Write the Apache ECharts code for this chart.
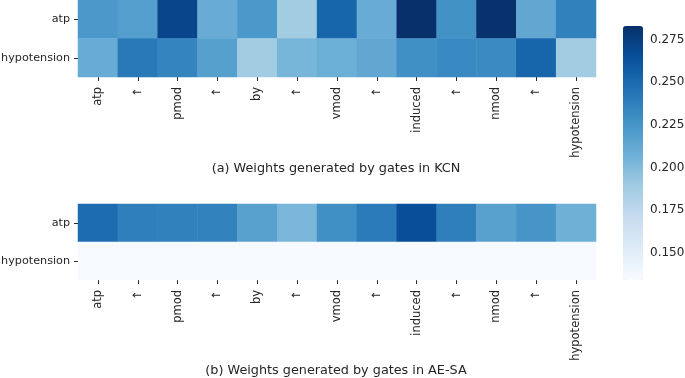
<!DOCTYPE html>
<html>
<head>
<meta charset="utf-8">
<script src="https://cdn.jsdelivr.net/npm/echarts@6/dist/echarts.min.js"></script>
<style>
  html, body { margin: 0; padding: 0; background: #fff; }
  #main { width: 685px; height: 378px; }
</style>
</head>
<body>
<div id="main"></div>
<script>
// 横轴 / 纵轴
var xLabels = ['atp', '↑', 'pmod', '↑', 'by', '↑', 'vmod', '↑', 'induced', '↑', 'nmod', '↑', 'hypotension'];
var yLabels = ['atp', 'hypotension'];

// (a) KCN
var kcnAtp  = [0.223, 0.219, 0.271, 0.210, 0.223, 0.188, 0.253, 0.210, 0.283, 0.227, 0.282, 0.213, 0.237];
var kcnHypo = [0.210, 0.241, 0.235, 0.218, 0.188, 0.204, 0.208, 0.213, 0.228, 0.232, 0.231, 0.253, 0.188];
// (b) AE-SA
var aesaAtp  = [0.249, 0.238, 0.237, 0.236, 0.217, 0.203, 0.228, 0.240, 0.266, 0.238, 0.217, 0.225, 0.207];
var aesaHypo = [0.135, 0.135, 0.135, 0.135, 0.135, 0.135, 0.135, 0.135, 0.135, 0.135, 0.135, 0.135, 0.135];

var titles = ['(a) Weights generated by gates in KCN', '(b) Weights generated by gates in AE-SA'];
var cbTicks = [0.150, 0.175, 0.200, 0.225, 0.250, 0.275];
var vMin = 0.134, vMax = 0.283;

var blues = ['#f7fbff', '#deebf7', '#c6dbef', '#9ecae1', '#6baed6', '#4292c6', '#2171b5', '#08519c', '#08306b'];

function toCells(rowA, rowB) {
	var d = [];
	for (var i = 0; i < xLabels.length; i++) {
		d.push([i, 0, rowA[i]]);
		d.push([i, 1, rowB[i]]);
	}
	return d;
}

var txt = '#262626';
var font = 'DejaVu Sans';
var fs = 11.5;

function xAx(idx) {
	return {
		type: 'category', gridIndex: idx, data: xLabels,
		axisLine: { show: false },
		axisTick: { show: true, length: 4, alignWithLabel: true, lineStyle: { color: txt, width: 1 } },
		axisLabel: { rotate: 90, fontSize: fs, fontFamily: font, color: txt, margin: 10, interval: 0 },
		splitLine: { show: false }
	};
}
function yAx(idx) {
	return {
		type: 'category', gridIndex: idx, data: yLabels, inverse: true,
		axisLine: { show: false },
		axisTick: { show: true, length: 4, alignWithLabel: true, lineStyle: { color: txt, width: 1 } },
		axisLabel: { fontSize: 11.2, fontFamily: font, color: txt, margin: 8 },
		splitLine: { show: false }
	};
}

var chart = echarts.init(document.getElementById('main'));
var option = {
	backgroundColor: '#fff',
	animation: false,
	title: [
		{ text: titles[0], left: 331, top: 157, textAlign: 'center',
		  textStyle: { fontSize: 12.8, fontWeight: 'normal', fontFamily: font, color: txt } },
		{ text: titles[1], left: 331, top: 359, textAlign: 'center',
		  textStyle: { fontSize: 12.8, fontWeight: 'normal', fontFamily: font, color: txt } }
	],
	grid: [
		{ left: 78, top: 0, width: 518, height: 77, outerBoundsMode: 'none' },
		{ left: 78, top: 204, width: 518, height: 76, outerBoundsMode: 'none' },
		{ left: 623, top: 26, width: 20, height: 254, outerBoundsMode: 'none' }
	],
	xAxis: [
		xAx(0), xAx(1),
		{ type: 'value', gridIndex: 2, show: false }
	],
	yAxis: [
		yAx(0), yAx(1),
		{
			type: 'value', gridIndex: 2, min: vMin, max: vMax, position: 'right',
			axisLine: { show: false },
			axisTick: { show: true, length: 4, customValues: cbTicks, lineStyle: { color: txt } },
			axisLabel: { fontSize: 12, fontFamily: font, color: txt, margin: 7, customValues: cbTicks,
				formatter: function (v) { return v.toFixed(3); } },
			splitLine: { show: false }
		}
	],
	visualMap: {
		type: 'continuous', min: vMin, max: vMax, seriesIndex: [0, 1],
		left: 623, top: 26, itemWidth: 20, itemHeight: 254, padding: 0,
		calculable: false, text: null, showLabel: false, hoverLink: false,
		inRange: { color: blues }
	},
	series: [
		{ type: 'heatmap', xAxisIndex: 0, yAxisIndex: 0, data: toCells(kcnAtp, kcnHypo), itemStyle: { borderWidth: 0 } },
		{ type: 'heatmap', xAxisIndex: 1, yAxisIndex: 1, data: toCells(aesaAtp, aesaHypo), itemStyle: { borderWidth: 0 } }
	]
};
chart.setOption(option);
</script>
</body>
</html>
